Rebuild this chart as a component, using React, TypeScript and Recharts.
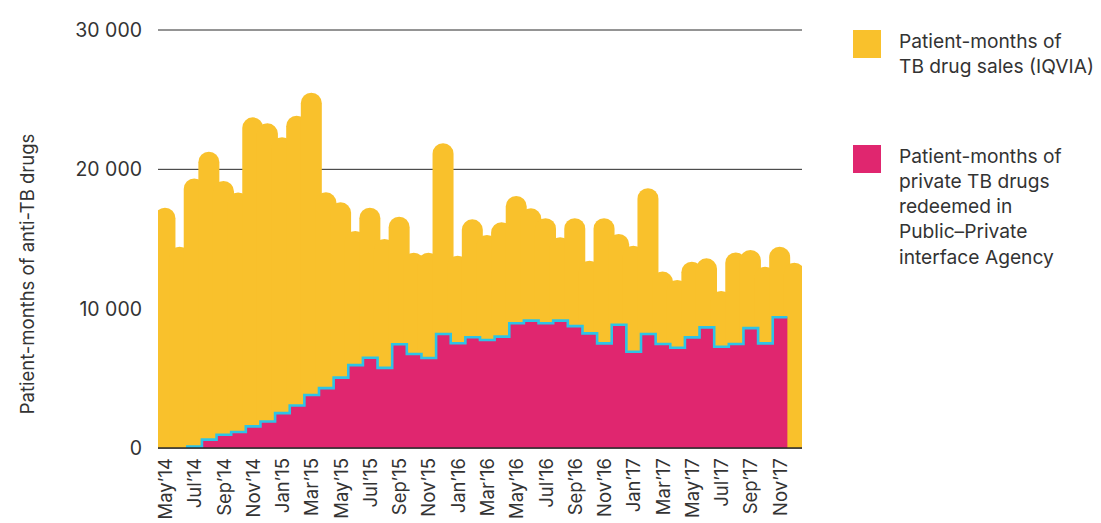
import {
  ComposedChart,
  Bar,
  Area,
  XAxis,
  YAxis,
  CartesianGrid,
} from "recharts";

// months shown on the x axis, May'14 .. Dec'17
const months = [
  "May’14", "Jun’14", "Jul’14", "Aug’14", "Sep’14", "Oct’14", "Nov’14", "Dec’14",
  "Jan’15", "Feb’15", "Mar’15", "Apr’15", "May’15", "Jun’15", "Jul’15", "Aug’15",
  "Sep’15", "Oct’15", "Nov’15", "Dec’15", "Jan’16", "Feb’16", "Mar’16", "Apr’16",
  "May’16", "Jun’16", "Jul’16", "Aug’16", "Sep’16", "Oct’16", "Nov’16", "Dec’16",
  "Jan’17", "Feb’17", "Mar’17", "Apr’17", "May’17", "Jun’17", "Jul’17", "Aug’17",
  "Sep’17", "Oct’17", "Nov’17", "Dec’17",
];

const tickLabels = [
  "May’14", "Jul’14", "Sep’14", "Nov’14", "Jan’15", "Mar’15", "May’15", "Jul’15",
  "Sep’15", "Nov’15", "Jan’16", "Mar’16", "May’16", "Jul’16", "Sep’16", "Nov’16",
  "Jan’17", "Mar’17", "May’17", "Jul’17", "Sep’17", "Nov’17",
];

// patient-months of TB drug sales (IQVIA)
const salesIqvia = [
  17250, 14450, 19350, 21270, 19160, 18330, 23730, 23300, 22300, 23850, 25500,
  18350, 17630, 15570, 17250, 15000, 16600, 14020, 14020, 21870, 13800, 16410,
  15290, 16200, 18090, 17200, 16490, 15120, 16490, 13440, 16490, 15360, 14520,
  18640, 12660, 12060, 13370, 13610, 11270, 14040, 14210, 13010, 14450, 13300,
];

// patient-months of private TB drugs redeemed in PPIA (null = no data)
const redeemedPpia = [
  null, 0, 100, 600, 950, 1150, 1550, 1900, 2500, 3050, 3800,
  4300, 5050, 5950, 6480, 5750, 7450, 6750, 6460, 8180, 7520, 7950,
  7750, 7990, 8950, 9140, 8950, 9140, 8750, 8230, 7510, 8850, 6910,
  8180, 7460, 7200, 7940, 8660, 7270, 7460, 8600, 7510, 9380, null,
];

const yTicks = [0, 10000, 20000, 30000];

const YELLOW = "#F9C12C";
const PINK = "#E0266F";
const CYAN = "#2EC3E6";
const TEXT = "#333333";
const FONT = "Inter, Roboto, sans-serif";

// bars sit at month centres (i + 0.5); the PPIA step closes at the month end (i + 1)
const rows: Array<Record<string, number | null>> = [];
months.forEach((_, i) => {
  rows.push({ x: i + 0.5, sales: salesIqvia[i], ppia: null });
  if (redeemedPpia[i] !== null) rows.push({ x: i + 1, sales: null, ppia: redeemedPpia[i] });
});

const tickPos = tickLabels.map((l) => months.indexOf(l) + 0.5);
const labelAt = (v: number) => months[Math.round(v - 0.5)] ?? "";

const CAP_W = 21;

// wide bar with a round cap, overlapping its neighbours
const CapBar = (props: any) => {
  const { x, y, width, height } = props;
  if (height == null || !(height > 0)) return null;
  const cx = x + width / 2;
  const r = CAP_W / 2;
  const bottom = y + height;
  const top = Math.min(y + r, bottom);
  const d = `M${cx - r},${bottom} L${cx - r},${top} A${r},${r} 0 0 1 ${cx + r},${top} L${cx + r},${bottom} Z`;
  return <path d={d} fill={YELLOW} />;
};

const MonthTick = (props: any) => {
  const { x, y, payload } = props;
  const ty = y + 2;
  return (
    <text
      x={x}
      y={ty}
      transform={`rotate(-90, ${x}, ${ty})`}
      textAnchor="end"
      dy="0.36em"
      fontSize={18.5}
      fill={TEXT}
      fontFamily={FONT}
    >
      {labelAt(payload.value)}
    </text>
  );
};

const YTitle = () => (
  <text
    x={19}
    y={266}
    transform="rotate(-90, 19, 266)"
    textAnchor="middle"
    dominantBaseline="central"
    fontSize={18.5}
    fill={TEXT}
    fontFamily={FONT}
  >
    Patient-months of anti-TB drugs
  </text>
);

const legendItems = [
  { color: YELLOW, top: 22, lines: ["Patient-months of", "TB drug sales (IQVIA)"] },
  {
    color: PINK,
    top: 137,
    lines: ["Patient-months of", "private TB drugs", "redeemed in", "Public–Private", "interface Agency"],
  },
];

export default function App() {
  return (
    <div style={{ position: "relative", width: 1093, height: 515, fontFamily: FONT }}>
      <ComposedChart
        width={810}
        height={515}
        data={rows}
        margin={{ top: 22, right: 16, bottom: 0, left: 50 }}
      >
        <CartesianGrid vertical={false} stroke="#2a2a2a" strokeWidth={1} />
        <Bar dataKey="sales" barSize={14} shape={CapBar} isAnimationActive={false} />
        <Area
          dataKey="ppia"
          type="stepBefore"
          connectNulls
          fill={PINK}
          fillOpacity={1}
          stroke={CYAN}
          strokeWidth={2.6}
          dot={false}
          activeDot={false}
          isAnimationActive={false}
          {...({ zIndex: 450 } as any)}
        />
        <XAxis
          type="number"
          dataKey="x"
          domain={[0, 44]}
          allowDataOverflow
          ticks={tickPos}
          interval={0}
          tick={<MonthTick />}
          tickLine={false}
          axisLine={{ stroke: "#2a2a2a", strokeWidth: 1.5 }}
          height={75}
          {...({ zIndex: 600 } as any)}
        />
        <YAxis
          domain={[0, 30000]}
          ticks={yTicks}
          width={100}
          axisLine={false}
          tickLine={false}
          tickSize={0}
          tickMargin={16}
          tick={{ fontSize: 19.5, fill: TEXT, fontFamily: FONT }}
          tickFormatter={(v: number) => v.toLocaleString("en-US").replace(",", " ")}
          label={<YTitle />}
        />
      </ComposedChart>
      {legendItems.map((item) => (
        <div key={item.color} style={{ position: "absolute", left: 845, top: item.top }}>
          <div
            style={{
              position: "absolute",
              left: 0,
              top: 0,
              width: 28,
              height: 28,
              background: item.color,
            }}
          />
          <div
            style={{
              position: "absolute",
              left: 46,
              top: -1.5,
              fontSize: 19.2,
              lineHeight: "25.3px",
              color: TEXT,
              whiteSpace: "nowrap",
            }}
          >
            {item.lines.map((l) => (
              <div key={l}>{l}</div>
            ))}
          </div>
        </div>
      ))}
    </div>
  );
}
